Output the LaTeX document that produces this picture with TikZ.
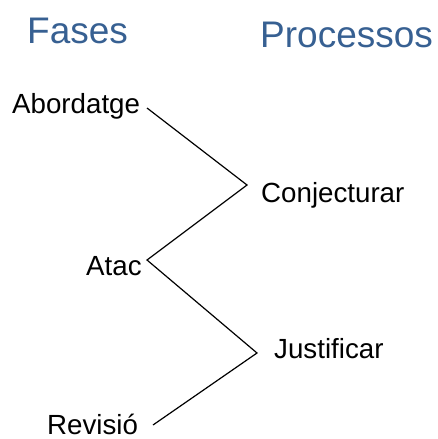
\documentclass[tikz,border=0pt]{standalone}
\usepackage{fontspec}
\setmainfont{Liberation Sans}
\usetikzlibrary{positioning}
\definecolor{titleblue}{RGB}{55,96,146}

\begin{document}
\begin{tikzpicture}[x=1pt,y=-1pt,
    title node/.style={anchor=base west,inner sep=0pt,text=titleblue,font=\fontsize{37}{40}\selectfont},
    phase node/.style={anchor=base west,inner sep=0pt,font=\fontsize{27.7}{30}\selectfont},
    link/.style={-,line width=1.2pt}]
   \useasboundingbox (0,0) rectangle (437,439);
   % titols
   \node[title node] (fases) at (27,43) {Fases};
   \node[title node] (proc) at (260,47) {Processos};
   % fases i processos
   \node[phase node] (abord) at (12,113) {Abordatge};
   \node[phase node] (conj) at (261,202) {Conjecturar};
   \node[phase node] (atac) at (86,275) {Atac};
   \node[phase node] (just) at (274,358) {Justificar};
   \node[phase node] (rev) at (47,434) {Revisió};
   % punts de les linies
   \coordinate (p1) at (147,108);
   \coordinate (p2) at (247,185);
   \coordinate (p3) at (147,260);
   \coordinate (p4) at (257,353);
   \coordinate (p5) at (153,425);
   \draw[link] (p1) -- (p2) -- (p3) -- (p4) -- (p5);
\end{tikzpicture}
\end{document}
